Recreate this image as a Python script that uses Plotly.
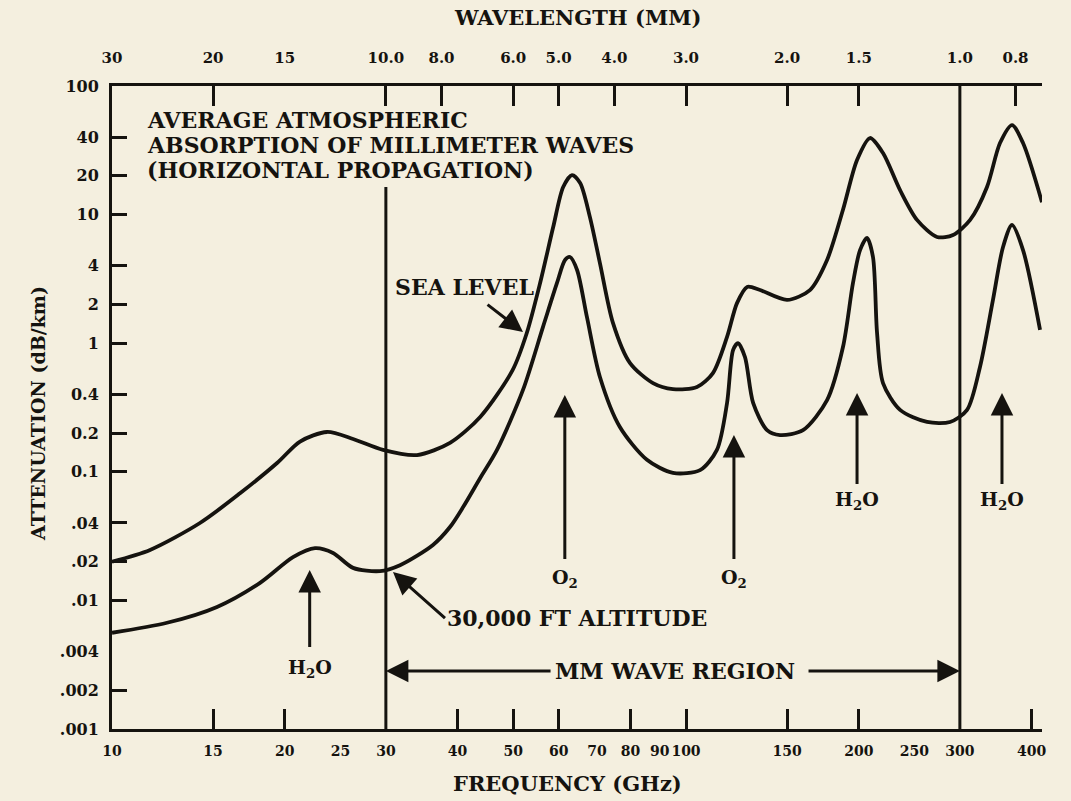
import math
import plotly.graph_objects as go

# ---------------- data ----------------
sea_freq_ghz = [10.0, 11.65, 14.23, 16.71, 19.39, 21.26, 23.69, 26.30, 29.66, 34.0, 38.8, 43.8,
                49.9, 52.8, 55.7, 58.7, 61.1, 63.3, 65.4, 68.0, 70.8, 74.6, 79.9, 87.6, 94.9,
                104.5, 111.4, 117.9, 122.7, 127.8, 134.6, 150.0, 164.4, 176.1, 187.7, 198.6,
                209.2, 220.4, 236.0, 252.6, 273.7, 291.9, 312.6, 334.5, 352.4, 369.8, 386.5, 417.0]
sea_att_db_km = [0.020, 0.0247, 0.040, 0.068, 0.117, 0.172, 0.204, 0.180, 0.148, 0.135, 0.168, 0.267,
                 0.62, 1.20, 2.94, 8.0, 16.4, 20.3, 17.6, 9.6, 4.2, 1.44, 0.70, 0.49, 0.44,
                 0.456, 0.586, 1.12, 2.05, 2.74, 2.59, 2.17, 2.59, 4.44, 10.9, 26.6,
                 39.4, 30.1, 15.5, 9.1, 6.7, 6.94, 9.1, 16.4, 36.0, 49.7, 36.0, 12.5]

alt_freq_ghz = [10.0, 12.47, 15.24, 18.11, 20.67, 22.58, 24.27, 26.30, 29.30, 31.75, 36.24, 38.8,
                40.9, 43.8, 46.85, 52.0, 56.35, 59.6, 61.55, 62.8, 64.6, 67.2, 70.8, 76.7, 85.5,
                94.9, 105.8, 113.2, 117.9, 120.8, 123.2, 126.7, 130.9, 138.4, 145.8, 159.9, 176.1,
                187.7, 195.4, 201.0, 206.7, 211.7, 215.2, 220.4, 236.0, 263.0, 288.4, 308.8,
                325.2, 342.6, 356.7, 369.8, 386.5, 413.8]
alt_att_db_km = [0.0056, 0.0067, 0.0089, 0.0137, 0.0217, 0.0255, 0.0234, 0.0179, 0.0169, 0.0188, 0.027, 0.0372,
                 0.0532, 0.0895, 0.148, 0.433, 1.34, 2.94, 4.44, 4.68, 3.71, 1.60, 0.546, 0.223, 0.124,
                 0.098, 0.103, 0.148, 0.343, 0.885, 1.00, 0.78, 0.343, 0.211, 0.193, 0.211, 0.361,
                 0.934, 2.94, 5.30, 6.58, 4.68, 1.20, 0.49, 0.303, 0.244, 0.244, 0.303,
                 0.653, 2.17, 5.60, 8.30, 5.30, 1.27]

mm_region_ghz = [30, 300]
region_line_top = [16.4, 100]
att_floor = 0.001

freq_label_vals = [10, 15, 20, 25, 30, 40, 50, 60, 70, 80, 90, 100, 150, 200, 250, 300, 400]
freq_label_text = ["10", "15", "20", "25", "30", "40", "50", "60", "70", "80", "90", "100",
                   "150", "200", "250", "300", "400"]
freq_tick_marks = [15, 20, 40, 50, 60, 80, 100, 150, 200, 400]

wavelength_mm = [30, 20, 15, 10, 8, 6, 5, 4, 3, 2, 1.5, 1.0, 0.8]
wavelength_text = ["30", "20", "15", "10.0", "8.0", "6.0", "5.0", "4.0", "3.0", "2.0", "1.5", "1.0", "0.8"]
wavelength_tick_marks_mm = [20, 10, 8, 6, 5, 4, 3, 2, 1.5, 0.8]

att_label_vals = [100, 40, 20, 10, 4, 2, 1, 0.4, 0.2, 0.1, 0.04, 0.02, 0.01, 0.004, 0.002, 0.001]
att_label_text = ["100", "40", "20", "10", "4", "2", "1", "0.4", "0.2", "0.1", ".04", ".02", ".01",
                  ".004", ".002", ".001"]
att_tick_marks = [40, 20, 10, 4, 2, 1, 0.4, 0.2, 0.1, 0.04, 0.02, 0.01, 0.002]

title_lines = ["AVERAGE ATMOSPHERIC", "ABSORPTION OF MILLIMETER WAVES", "(HORIZONTAL PROPAGATION)"]

# ---------------- style ----------------
INK = "#15130f"
BG = "#f4efdf"
FONT = "DejaVu Serif"
X_RANGE = [1.0, 2.6202]
Y_RANGE = [-3.0, 2.0]

fig = go.Figure()

fig.add_trace(go.Scatter(x=sea_freq_ghz, y=sea_att_db_km, mode="lines",
                         line=dict(color=INK, width=3.8, shape="spline", smoothing=0.8),
                         name="Sea level", showlegend=False, hoverinfo="skip"))
fig.add_trace(go.Scatter(x=alt_freq_ghz, y=alt_att_db_km, mode="lines",
                         line=dict(color=INK, width=3.8, shape="spline", smoothing=0.8),
                         name="30,000 ft", showlegend=False, hoverinfo="skip"))
for f, top in zip(mm_region_ghz, region_line_top):
    fig.add_trace(go.Scatter(x=[f, f], y=[att_floor, top], mode="lines",
                             line=dict(color=INK, width=3), showlegend=False, hoverinfo="skip"))

# empty traces to register overlay axes
fig.add_trace(go.Scatter(x=[], y=[], xaxis="x2", yaxis="y", showlegend=False))
fig.add_trace(go.Scatter(x=[], y=[], xaxis="x3", yaxis="y", showlegend=False))
fig.add_trace(go.Scatter(x=[], y=[], xaxis="x4", yaxis="y", showlegend=False))
fig.add_trace(go.Scatter(x=[], y=[], xaxis="x", yaxis="y2", showlegend=False))

tickfont = dict(family=FONT, size=15, color=INK, weight="bold")
common_x = dict(type="log", range=X_RANGE, showgrid=False, zeroline=False)

fig.update_layout(
    width=1071, height=801,
    margin=dict(l=112, r=29, t=86, b=72),
    paper_bgcolor=BG, plot_bgcolor=BG,
    font=dict(family=FONT, color=INK, weight="bold"),
    xaxis=dict(**common_x, tickvals=freq_label_vals, ticktext=freq_label_text, ticks="",
               tickangle=0, showline=True, linecolor=INK, linewidth=3,
               tickfont=dict(family=FONT, size=14, color=INK, weight="bold"),
               ticklabelstandoff=7, anchor="y"),
    xaxis3=dict(**common_x, overlaying="x", anchor="y", side="bottom",
                tickvals=freq_tick_marks, ticks="inside", ticklen=20, tickwidth=3,
                tickcolor=INK, showticklabels=False, showline=False),
    xaxis2=dict(**common_x, overlaying="x", anchor="y", side="top",
                tickvals=[300.0 / w for w in wavelength_mm], ticktext=wavelength_text, ticks="",
                tickangle=0, showline=True, linecolor=INK, linewidth=3, tickfont=tickfont,
                ticklabelstandoff=14),
    xaxis4=dict(**common_x, overlaying="x", anchor="y", side="top",
                tickvals=[300.0 / w for w in wavelength_tick_marks_mm], ticks="inside", ticklen=20,
                tickwidth=3, tickcolor=INK, showticklabels=False, showline=False),
    yaxis=dict(type="log", range=Y_RANGE, showgrid=False, zeroline=False,
               tickvals=att_label_vals, ticktext=att_label_text, ticks="",
               showline=True, linecolor=INK, linewidth=3,
               tickfont=dict(family=FONT, size=16, color=INK, weight="bold"),
               ticklabelstandoff=7, anchor="x"),
    yaxis2=dict(type="log", range=Y_RANGE, overlaying="y", side="left", anchor="x",
                showgrid=False, zeroline=False, tickvals=att_tick_marks, ticks="inside",
                ticklen=15, tickwidth=3, tickcolor=INK, showticklabels=False, showline=False),
)

L = math.log10
big = dict(family=FONT, size=22, color=INK, weight="bold")
mid = dict(family=FONT, size=19, color=INK, weight="bold")
arrow = dict(showarrow=True, arrowhead=2, arrowsize=1.5, arrowwidth=3, arrowcolor=INK)

annotations = [
    dict(xref="paper", yref="paper", x=0.49, y=-0.084, text="FREQUENCY (GHz)", showarrow=False,
         font=dict(family=FONT, size=21, color=INK, weight="bold"), yanchor="middle"),
    dict(xref="paper", yref="paper", x=0.50, y=1.106, text="WAVELENGTH (MM)", showarrow=False,
         font=dict(family=FONT, size=21, color=INK, weight="bold"), yanchor="middle"),
    dict(xref="paper", yref="paper", x=-0.0935, y=0.49, text="ATTENUATION (dB/km)", showarrow=False,
         textangle=-90, font=dict(family=FONT, size=19, color=INK, weight="bold")),
]
for line, py in zip(title_lines, [0.9479, 0.909, 0.8701]):
    annotations.append(dict(xref="paper", yref="paper", x=0.0355, y=py, xanchor="left",
                            yanchor="middle", text=line, showarrow=False, font=big))

annotations += [
    dict(x=L(52.0), y=L(1.22), ax=-58, ay=-45, text="SEA LEVEL", font=big, borderpad=4, **arrow),
    dict(x=L(61.5), y=L(0.395), ax=0, ay=183, text="O<sub>2</sub>", font=mid, borderpad=6, **arrow),
    dict(x=L(121.2), y=L(0.193), ax=0, ay=143, text="O<sub>2</sub>", font=mid, borderpad=6, **arrow),
    dict(x=L(198.6), y=L(0.41), ax=0, ay=107, text="H<sub>2</sub>O", font=mid, borderpad=3, **arrow),
    dict(x=L(355.2), y=L(0.41), ax=0, ay=107, text="H<sub>2</sub>O", font=mid, borderpad=3, **arrow),
    dict(x=L(22.1), y=L(0.0172), ax=0, ay=98, text="H<sub>2</sub>O", font=mid, borderpad=8, **arrow),
    dict(x=L(30.87), y=L(0.0166), ax=52, ay=46, text="30,000 FT ALTITUDE", font=big,
         xanchor="left", yanchor="middle", **arrow),
    dict(x=L(30.0), y=L(0.00282), axref="x", ayref="y", ax=L(95.7), ay=L(0.00282),
         text="MM WAVE REGION", font=big, borderpad=4, **arrow),
    dict(x=L(300.0), y=L(0.00282), axref="x", ayref="y", ax=L(162.5), ay=L(0.00282), text="",
         **arrow),
]
fig.update_layout(annotations=annotations)

fig.write_html("out.html")
